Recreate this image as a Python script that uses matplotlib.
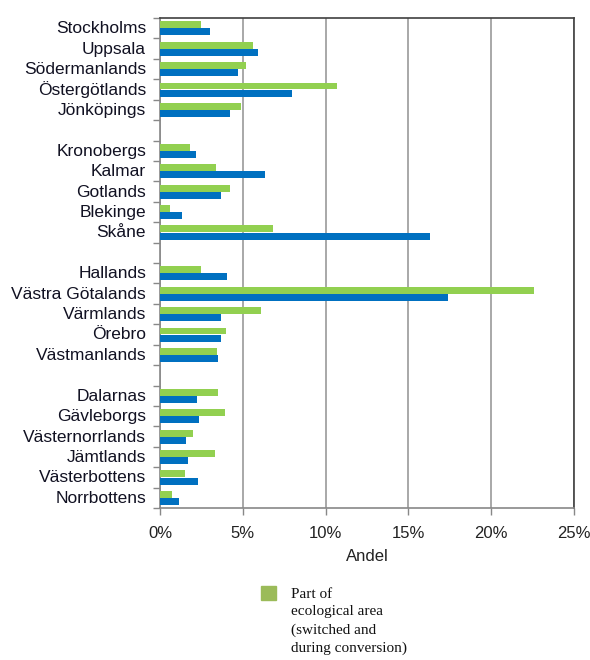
import matplotlib
matplotlib.use("Agg")
import matplotlib.pyplot as plt
from matplotlib.patches import Rectangle
import numpy as np

regions = ["Stockholms", "Uppsala", "Södermanlands", "Östergötlands", "Jönköpings",
           None,
           "Kronobergs", "Kalmar", "Gotlands", "Blekinge", "Skåne",
           None,
           "Hallands", "Västra Götalands", "Värmlands", "Örebro", "Västmanlands",
           None,
           "Dalarnas", "Gävleborgs", "Västernorrlands", "Jämtlands", "Västerbottens", "Norrbottens"]

green_vals = [2.5, 5.6, 5.2, 10.7, 4.9,
              None,
              1.8, 3.4, 4.2, 0.6, 6.8,
              None,
              2.5, 22.6, 6.1, 4.0, 3.45,
              None,
              3.5, 3.9, 2.0, 3.3, 1.5, 0.7]
blue_vals = [3.0, 5.9, 4.7, 8.0, 4.2,
             None,
             2.2, 6.35, 3.7, 1.3, 16.3,
             None,
             4.05, 17.4, 3.7, 3.7, 3.5,
             None,
             2.25, 2.35, 1.6, 1.7, 2.3, 1.15]

xticks = [0, 5, 10, 15, 20, 25]
xtick_labels = ["0%", "5%", "10%", "15%", "20%", "25%"]
xlabel = "Andel"
legend_text = "Part of\necological area\n(switched and\nduring conversion)"

GREEN = "#92D050"
BLUE = "#0070C0"

fig = plt.figure(figsize=(5.9, 6.6), dpi=100)
ax = fig.add_axes([160/590, 1-508/660, (574-160)/590, (508-18)/660])

n = len(regions)
h = 0.34
for i, (r, g, b) in enumerate(zip(regions, green_vals, blue_vals)):
    if r is None:
        continue
    ax.barh(i - 0.17, g, height=h, color=GREEN, zorder=3)
    ax.barh(i + 0.18, b, height=h, color=BLUE, zorder=3)

ax.set_ylim(n - 0.5, -0.5)
ax.set_xlim(0, 25)

label_pos = [i for i, r in enumerate(regions) if r is not None]
ax.set_yticks([i - 0.05 for i in label_pos])
ax.set_yticklabels([regions[i] for i in label_pos],
                   fontfamily="Liberation Sans", fontsize=12.5, color="#111122")
ax.tick_params(axis="y", which="major", length=0, pad=10)
ax.set_yticks(np.arange(n + 1) - 0.5, minor=True)
ax.tick_params(axis="y", which="minor", length=5, color="#888888", width=1)

ax.set_xticks(xticks)
ax.set_xticklabels(xtick_labels, fontfamily="Liberation Sans", fontsize=12, color="#222222")
ax.tick_params(axis="x", length=5, color="#888888", width=1, pad=8)
ax.set_xlabel(xlabel, fontfamily="Liberation Sans", fontsize=12, color="#222222", labelpad=6)

ax.grid(axis="x", color="#9a9a9a", linewidth=1.2, zorder=0)
ax.set_axisbelow(True)
ax.spines["left"].set_color("#888888")
ax.spines["bottom"].set_color("#888888")
ax.spines["top"].set_color("#404040")
ax.spines["right"].set_color("#404040")
for s in ax.spines.values():
    s.set_linewidth(1.2)

# legend
fig.patches.append(Rectangle((261/590, 1-600/660), 15/590, 14/660,
                             transform=fig.transFigure, color="#9BBB59"))
fig.text(291/590, 1-588/660, legend_text, fontfamily="Liberation Serif", fontsize=11,
         va="top", ha="left", linespacing=1.45, color="#111111")

fig.savefig("out.png", dpi=100)
